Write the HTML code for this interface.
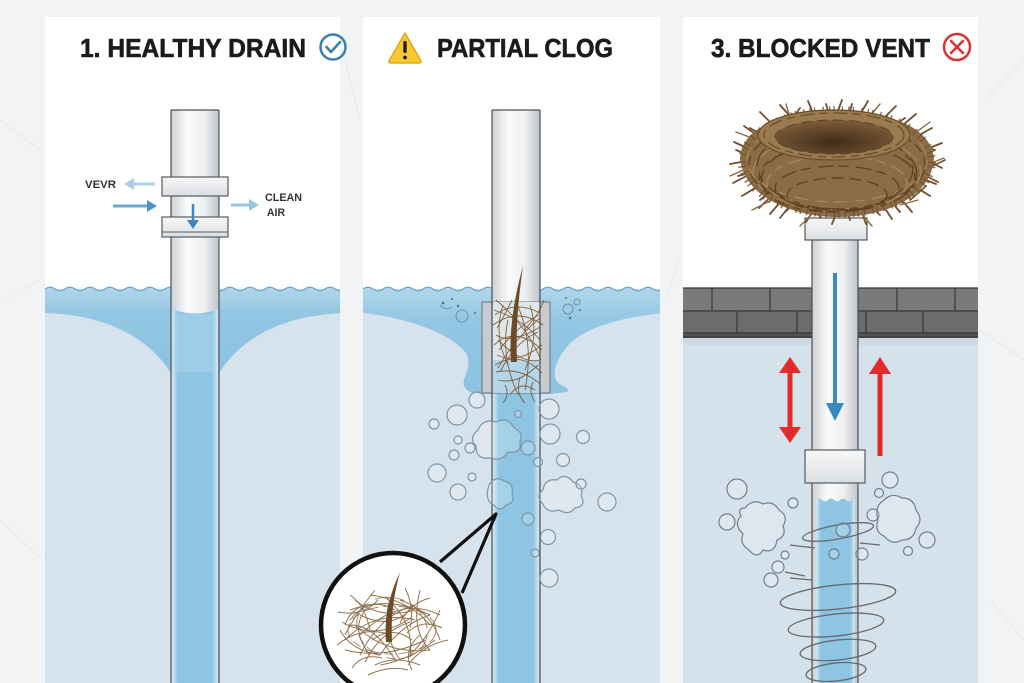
<!DOCTYPE html>
<html><head><meta charset="utf-8"><style>html,body{margin:0;padding:0;background:#f2f3f4;}svg{display:block}</style></head><body>
<svg width="1024" height="683" viewBox="0 0 1024 683" xmlns="http://www.w3.org/2000/svg" font-family="'Liberation Sans', sans-serif">
<defs>
<linearGradient id="pipe" x1="0" x2="1" y1="0" y2="0">
<stop offset="0" stop-color="#cdd2d6"/><stop offset="0.35" stop-color="#fbfbfb"/><stop offset="0.7" stop-color="#eceef0"/><stop offset="1" stop-color="#c0c5ca"/>
</linearGradient>
<linearGradient id="coup" x1="0" x2="0" y1="0" y2="1"><stop offset="0" stop-color="#f6f7f8"/><stop offset="1" stop-color="#dcdfe2"/></linearGradient>
<linearGradient id="wtr" x1="0" x2="0" y1="0" y2="1"><stop offset="0" stop-color="#b2d8ec"/><stop offset="0.3" stop-color="#93c7e3"/><stop offset="1" stop-color="#8cc2e0"/></linearGradient>
<linearGradient id="inw" x1="0" x2="1" y1="0" y2="0"><stop offset="0" stop-color="#d2e8f4"/><stop offset="0.13" stop-color="#8ec5e3"/><stop offset="0.87" stop-color="#8ec5e3"/><stop offset="1" stop-color="#d2e8f4"/></linearGradient>
<radialGradient id="bowl" cx="0.5" cy="0.65" r="0.6"><stop offset="0" stop-color="#3f2c18"/><stop offset="1" stop-color="#7a5a38"/></radialGradient>
<clipPath id="c1"><rect x="45" y="17" width="295" height="666"/></clipPath>
<clipPath id="c2"><rect x="363" y="17" width="297" height="666"/></clipPath>
<clipPath id="c3"><rect x="683" y="17" width="295" height="666"/></clipPath>
</defs>

<!-- faint background sketch lines -->
<g stroke="#e6e8ea" stroke-width="1" fill="none">
<path d="M0,120 L40,150 M5,300 L40,280 M0,520 L42,560 M985,100 L1024,60 M980,330 L1024,360 M990,600 L1024,640 M345,60 L360,120 M665,300 L680,260"/>
</g>

<!-- PANELS -->
<rect x="45" y="17" width="295" height="666" fill="#ffffff"/>
<rect x="363" y="17" width="297" height="666" fill="#ffffff"/>
<rect x="683" y="17" width="295" height="666" fill="#ffffff"/>

<!-- TITLES -->
<g font-size="26" font-weight="bold" fill="#1b1b1b" stroke="#1b1b1b" stroke-width="0.6">
<text x="80" y="57" textLength="226" lengthAdjust="spacingAndGlyphs">1. HEALTHY DRAIN</text>
<text x="437" y="57" textLength="176" lengthAdjust="spacingAndGlyphs">PARTIAL CLOG</text>
<text x="711" y="57" textLength="219" lengthAdjust="spacingAndGlyphs">3. BLOCKED VENT</text>
</g>
<circle cx="333" cy="47" r="12.5" fill="none" stroke="#3e80ad" stroke-width="2.5"/>
<path d="M326.5,47 L331,52 L340,42" fill="none" stroke="#3e80ad" stroke-width="2.6" stroke-linecap="round" stroke-linejoin="round"/>

<path d="M405,33 L421,61 Q422,63 419,63 L391,63 Q388,63 389,61 Z" fill="#f6c935" stroke="#e3aa10" stroke-width="1.5" stroke-linejoin="round"/>
<rect x="403.3" y="41" width="3.4" height="12" rx="1.2" fill="#222"/>
<circle cx="405" cy="57.5" r="1.9" fill="#222"/>

<circle cx="957" cy="47" r="13" fill="none" stroke="#d93434" stroke-width="2.5"/>
<path d="M951,41 L963,53 M963,41 L951,53" stroke="#d93434" stroke-width="2.6" stroke-linecap="round"/>

<!-- ================= PANEL 1 ================= -->
<g clip-path="url(#c1)">
<rect x="45" y="289" width="300" height="394" fill="#d7e3ec"/>
<path d="M45,289 q5,-3.5 10,0 t10,0 t10,0 t10,0 t10,0 t10,0 t10,0 t10,0 t10,0 t10,0 t10,0 t10,0 t10,0 t10,0 t10,0 t10,0 t10,0 t10,0 t10,0 t10,0 t10,0 t10,0 t10,0 t10,0 t10,0 t10,0 t10,0 t10,0 t10,0 t10,0 L345,313 C280,315 240,340 219,373 L171,373 C150,340 110,315 45,313 Z" fill="url(#wtr)"/>
<path d="M45,289 q5,-3.5 10,0 t10,0 t10,0 t10,0 t10,0 t10,0 t10,0 t10,0 t10,0 t10,0 t10,0 t10,0 t10,0 t10,0 t10,0 t10,0 t10,0 t10,0 t10,0 t10,0 t10,0 t10,0 t10,0 t10,0 t10,0 t10,0 t10,0 t10,0 t10,0 t10,0" fill="none" stroke="#6ea7cb" stroke-width="1.3"/>
</g>
<!-- pipe 1 -->
<rect x="171" y="110" width="48" height="573" fill="url(#pipe)"/>
<path d="M172,309 Q195,318 218,309 L218,683 L172,683 Z" fill="url(#inw)"/>
<rect x="176" y="314" width="38" height="58" fill="#a9d4ea" opacity="0.6"/>
<path d="M171,110 L171,683 M219,110 L219,683 M171,110 L219,110" stroke="#4d4f52" stroke-width="1.2" fill="none"/>
<rect x="162" y="177" width="66" height="19" fill="url(#coup)" stroke="#56595c" stroke-width="1.2"/>
<rect x="162" y="217" width="66" height="20" fill="url(#coup)" stroke="#56595c" stroke-width="1.2"/>
<path d="M162,232 L228,232" stroke="#56595c" stroke-width="1"/>
<path d="M193,204 L193,222" stroke="#3d87c0" stroke-width="2.5"/>
<polygon points="187,220 199,220 193,229" fill="#3d87c0"/>
<!-- arrows 1 -->
<path d="M155,184 L132,184" stroke="#a8cfe7" stroke-width="3"/>
<polygon points="124,184 134,178 134,190" fill="#a8cfe7"/>
<path d="M113,206 L148,206" stroke="#6ba7d2" stroke-width="3"/>
<polygon points="157,206 147,200 147,212" fill="#4f94c8"/>
<path d="M231,205 L251,205" stroke="#96c5e2" stroke-width="3"/>
<polygon points="259,205 249,199 249,211" fill="#96c5e2"/>
<text x="85" y="188" font-size="11" font-weight="bold" fill="#333" textLength="31" lengthAdjust="spacingAndGlyphs">VEVR</text>
<text x="265" y="201" font-size="11" font-weight="bold" fill="#333" textLength="37" lengthAdjust="spacingAndGlyphs">CLEAN</text>
<text x="267" y="216" font-size="11" font-weight="bold" fill="#333" textLength="18" lengthAdjust="spacingAndGlyphs">AIR</text>

<!-- ================= PANEL 2 ================= -->
<g clip-path="url(#c2)">
<rect x="363" y="289" width="300" height="394" fill="#d7e3ec"/>
<path d="M363,289 q5,-3.5 10,0 t10,0 t10,0 t10,0 t10,0 t10,0 t10,0 t10,0 t10,0 t10,0 t10,0 t10,0 t10,0 t10,0 t10,0 t10,0 t10,0 t10,0 t10,0 t10,0 t10,0 t10,0 t10,0 t10,0 t10,0 t10,0 t10,0 t10,0 t10,0 t10,0 L663,313 C615,318 580,330 566,348 C555,362 553,372 556,380 C560,387 571,387 567,392 L550,394 L482,394 L470,392 C464,389 462,384 465,377 C468,368 471,361 465,352 C452,335 410,318 363,313 Z" fill="url(#wtr)"/>
<path d="M363,289 q5,-3.5 10,0 t10,0 t10,0 t10,0 t10,0 t10,0 t10,0 t10,0 t10,0 t10,0 t10,0 t10,0 t10,0 t10,0 t10,0 t10,0 t10,0 t10,0 t10,0 t10,0 t10,0 t10,0 t10,0 t10,0 t10,0 t10,0 t10,0 t10,0 t10,0 t10,0" fill="none" stroke="#6ea7cb" stroke-width="1.3"/>
</g>
<g fill="#4b6f8a">
<circle cx="443" cy="303" r="1.3"/><circle cx="452" cy="299" r="1"/><circle cx="458" cy="306" r="1.2"/><circle cx="475" cy="313" r="1"/><circle cx="566" cy="298" r="1"/><circle cx="570" cy="318" r="1.2"/><circle cx="580" cy="310" r="1"/>
</g>
<g fill="none" stroke="#6f90a8" stroke-width="1">
<circle cx="462" cy="316" r="6"/><circle cx="568" cy="309" r="5"/><circle cx="577" cy="302" r="3"/><path d="M440,305 q5,6 12,2"/>
</g>
<!-- pipe 2 -->
<rect x="492" y="110" width="48" height="573" fill="url(#pipe)"/>
<rect x="493" y="392" width="46" height="291" fill="url(#inw)"/>
<rect x="482" y="302" width="68" height="91" fill="#c8ccd0" stroke="#7b7f83" stroke-width="1.2"/>
<rect x="493" y="302" width="46" height="91" fill="#dfe6ea"/>
<rect x="493" y="360" width="46" height="33" fill="#a9d2e8" opacity="0.8"/>
<path d="M492,110 L492,683 M540,110 L540,683 M492,110 L540,110" stroke="#4d4f52" stroke-width="1.2" fill="none"/>
<!-- hair in sleeve -->
<g fill="none" stroke="#7b5a36" stroke-width="0.9" opacity="0.95">
<path d="M495,315 q20,-15 45,-2"/><path d="M493,325 q25,-18 50,0"/><path d="M496,335 q15,10 44,-8"/><path d="M494,345 q22,-20 48,5"/>
<path d="M497,355 q20,10 45,-10"/><path d="M495,365 q25,-15 47,8"/><path d="M500,372 q15,-30 38,-40"/><path d="M498,380 q20,5 40,-15"/>
<path d="M503,305 q-10,30 5,60"/><path d="M530,305 q10,30 -5,65"/><path d="M515,300 q20,40 10,90"/><path d="M508,320 q-8,35 10,75"/>
<path d="M540,318 q-25,20 -42,50"/><path d="M496,300 q30,25 45,60"/><path d="M520,378 q-5,15 5,25"/><path d="M505,385 q5,10 -2,18"/>
<path d="M533,382 q-5,10 2,20"/><path d="M498,340 q25,25 42,20"/><path d="M512,300 q-10,20 -15,28"/><path d="M524,330 q15,-15 20,-30"/>
<path d="M494,310 q30,10 46,30"/><path d="M499,350 q20,-25 40,-35"/><path d="M496,372 q25,-5 44,12"/><path d="M510,395 q10,-15 25,-5"/>
</g>
<path d="M511,362 Q508,320 523,266 Q515,320 517,362 Z" fill="#6a4a28"/>
<!-- bubbles panel 2 -->
<g fill="#ffffff" fill-opacity="0.2" stroke="#7c95a8" stroke-width="1.2">
<circle cx="477" cy="400" r="8"/><circle cx="457" cy="415" r="10"/><circle cx="434" cy="424" r="5"/>
<path d="M478,430 q5,-12 18,-8 q12,-6 18,6 q10,4 6,14 q2,12 -12,10 q-6,10 -18,6 q-14,2 -14,-12 q-8,-8 2,-16 Z"/>
<circle cx="518" cy="414" r="3.5"/><circle cx="549" cy="409" r="10"/><circle cx="550" cy="434" r="10"/><circle cx="583" cy="437" r="6.5"/>
<circle cx="458" cy="440" r="4"/><circle cx="470" cy="448" r="5"/><circle cx="454" cy="455" r="5"/><circle cx="528" cy="448" r="7"/>
<circle cx="538" cy="462" r="4.5"/><circle cx="563" cy="460" r="6.5"/><circle cx="437" cy="473" r="9"/><circle cx="472" cy="477" r="4"/>
<circle cx="458" cy="492" r="8"/>
<path d="M489,485 q6,-10 15,-4 q10,2 8,12 q4,10 -6,12 q-6,8 -12,0 q-10,-4 -5,-20 Z"/>
<path d="M543,490 q2,-12 14,-10 q8,-8 16,2 q12,4 8,14 q6,10 -6,12 q-6,8 -16,2 q-12,4 -16,-6 q-8,-8 0,-14 Z"/>
<circle cx="581" cy="484" r="5"/><circle cx="607" cy="502" r="9"/><circle cx="528" cy="519" r="6"/><circle cx="548" cy="537" r="7.5"/>
<circle cx="535" cy="553" r="4"/><circle cx="549" cy="578" r="9"/>
</g>
<!-- magnifier -->
<path d="M440,562 L496,514 L462,593" fill="none" stroke="#111" stroke-width="3.2" stroke-linejoin="round"/>
<circle cx="393" cy="625" r="72" fill="#ffffff" stroke="#111" stroke-width="4.5"/>
<g fill="none" stroke="#8b6c46" stroke-width="1" opacity="0.95">
<path d="M350,620 q20,-25 45,-10"/><path d="M345,640 q30,-30 70,-20"/><path d="M355,600 q25,20 60,10"/><path d="M360,655 q20,-40 55,-50"/>
<path d="M370,595 q40,5 60,30"/><path d="M340,630 q10,20 40,25"/><path d="M400,600 q30,10 40,40"/><path d="M410,655 q20,-20 30,-45"/>
<path d="M365,610 q-15,20 5,45"/><path d="M380,665 q30,-5 55,-25"/><path d="M350,610 q40,-15 80,5"/><path d="M345,650 q40,10 80,-10"/>
<path d="M375,590 q-20,25 -30,45"/><path d="M420,590 q-10,40 10,60"/><path d="M360,635 q40,-40 80,-20"/><path d="M355,625 q30,30 75,25"/>
<path d="M395,660 q-20,-35 -45,-35"/><path d="M430,615 q-30,10 -50,40"/><path d="M365,662 q15,-30 45,-40"/><path d="M385,597 q30,25 25,60"/>
<path d="M338,612 q25,5 40,-12"/><path d="M442,628 q-20,-10 -35,5"/><path d="M352,668 q10,-15 30,-10"/><path d="M412,670 q-10,-20 8,-35"/>
<path d="M372,640 q20,-15 40,0"/><path d="M360,615 q30,15 50,-5"/><path d="M390,600 q-10,30 10,60"/><path d="M345,625 q5,-15 20,-20"/>
<path d="M337,645 q25,-20 55,-10"/><path d="M448,640 q-25,5 -40,25"/><path d="M350,595 q15,10 20,35"/><path d="M430,598 q-20,5 -30,25"/>
<path d="M368,675 q20,-10 40,-5"/><path d="M342,622 q35,20 70,-5"/><path d="M405,588 q10,20 5,40"/><path d="M420,665 q-25,-10 -45,0"/>
</g>
<ellipse cx="392" cy="630" rx="44" ry="24" fill="none" stroke="#7e6040" stroke-width="1" stroke-dasharray="14 5 9 6" opacity="0.7"/>
<ellipse cx="392" cy="628" rx="36" ry="30" fill="none" stroke="#7e6040" stroke-width="1" stroke-dasharray="10 7 16 4" transform="rotate(20 392 628)" opacity="0.7"/>
<path d="M386,642 Q383,608 400,572 Q390,608 392,642 Z" fill="#6a4a28"/>

<!-- ================= PANEL 3 ================= -->
<rect x="683" y="337" width="295" height="346" fill="#d6e2eb"/>
<rect x="683" y="333" width="295" height="12" fill="#c6d3dd" opacity="0.6"/>
<rect x="683" y="288" width="295" height="23" fill="#7a7a7a"/>
<rect x="683" y="311" width="295" height="22" fill="#6c6c6c"/>
<rect x="683" y="333" width="295" height="5" fill="#555"/>
<g stroke="#383838" stroke-width="1.2" fill="none">
<path d="M683,288 L978,288 M683,311 L978,311 M683,333 L978,333 M683,337 L978,337"/>
<path d="M712,288 L712,311 M770,288 L770,311 M897,288 L897,311 M955,288 L955,311"/>
<path d="M737,311 L737,333 M797,311 L797,333 M866,311 L866,333 M923,311 L923,333"/>
</g>
<!-- pipe 3 -->
<rect x="812" y="240" width="46" height="443" fill="url(#pipe)"/>
<path d="M816,500 q3,-3 6,0 t6,0 t6,0 t6,0 t6,0 t6,0 t3,0 L855,683 L816,683 Z" fill="url(#inw)"/>
<path d="M812,240 L812,683 M858,240 L858,683" stroke="#4d4f52" stroke-width="1.2" fill="none"/>
<rect x="805" y="218" width="62" height="22" fill="url(#coup)" stroke="#56595c" stroke-width="1.2"/>
<rect x="805" y="450" width="60" height="33" fill="url(#coup)" stroke="#56595c" stroke-width="1.2"/>
<path d="M835,273 L835,405" stroke="#3b87c2" stroke-width="4"/>
<polygon points="835,421 826,403 844,403" fill="#3b87c2"/>
<path d="M790,368 L790,432" stroke="#e12b2b" stroke-width="5"/>
<polygon points="790,357 779,373 801,373" fill="#e12b2b"/>
<polygon points="790,443 779,427 801,427" fill="#e12b2b"/>
<path d="M880,370 L880,456" stroke="#e12b2b" stroke-width="5"/>
<polygon points="880,357 869,374 891,374" fill="#e12b2b"/>
<g fill="none" stroke="#66696d" stroke-width="1.3">
<ellipse cx="838" cy="532" rx="36" ry="7" transform="rotate(-10 838 532)"/>
<path d="M790,545 L815,548 M860,543 L880,545 M785,572 L805,576 M790,578 L812,580"/>
<ellipse cx="838" cy="597" rx="58" ry="12" transform="rotate(-6 838 597)"/>
<ellipse cx="836" cy="625" rx="48" ry="11" transform="rotate(-6 836 625)"/>
<ellipse cx="838" cy="650" rx="38" ry="10" transform="rotate(-6 838 650)"/>
<ellipse cx="836" cy="672" rx="30" ry="9" transform="rotate(-6 836 672)"/>
</g>
<g fill="#ffffff" fill-opacity="0.2" stroke="#6f7f8c" stroke-width="1.2">
<circle cx="737" cy="489" r="10"/><circle cx="727" cy="522" r="8"/><circle cx="793" cy="503" r="5"/>
<path d="M745,508 q8,-10 18,-4 q10,-4 16,6 q10,6 4,16 q4,10 -6,14 q-2,14 -14,10 q-6,10 -14,0 q-10,-6 -6,-16 q-10,-10 -2,-18 q-4,-8 4,-8 Z"/>
<circle cx="785" cy="555" r="4"/><circle cx="778" cy="567" r="6"/><circle cx="771" cy="580" r="7"/>
<circle cx="890" cy="480" r="8"/><circle cx="879" cy="493" r="4.5"/><circle cx="873" cy="515" r="6"/>
<path d="M884,500 q8,-8 18,-2 q12,0 14,12 q8,10 0,18 q-2,12 -14,12 q-10,6 -18,-4 q-10,-4 -6,-16 q-4,-14 6,-20 Z"/>
<circle cx="927" cy="540" r="8"/><circle cx="908" cy="551" r="4.5"/>
<circle cx="843" cy="530" r="7"/><circle cx="834" cy="554" r="5"/><circle cx="862" cy="554" r="6"/>
</g>
<!-- nest -->
<g stroke="#6e5030" stroke-width="1.8" stroke-linecap="round" fill="none">
<path d="M922,158 L942,168 M918,172 L938,182 M908,182 L930,196 M895,192 L912,212 M878,198 L892,219 M858,202 L866,224 M840,204 L832,224 M818,203 L806,222 M796,198 L780,218 M778,190 L759,208 M765,182 L742,196 M756,171 L733,183 M752,160 L730,164 M756,152 L734,142 M764,140 L744,126 M778,130 L760,112 M795,122 L780,105 M815,118 L808,101 M836,116 L842,100 M858,118 L868,101 M880,122 L896,106 M897,130 L916,114 M910,140 L932,128 M919,152 L942,143"/>
<path d="M920,172 L945,160 M910,200 L926,186 M880,215 L866,203 M850,220 L845,205 M820,218 L826,205 M785,212 L798,200 M760,200 L772,190 M738,176 L760,170 M736,150 L756,158 M750,128 L770,140 M800,108 L790,122 M826,104 L830,118 M852,104 L848,118 M905,118 L890,128 M935,150 L918,145 M936,184 L916,176 M900,212 L888,198 M770,214 L782,200"/>
</g>
<g stroke="#8a6a42" stroke-width="1.4" stroke-linecap="round" fill="none">
<path d="M926,165 L944,158 M900,205 L918,200 M862,214 L872,226 M812,214 L800,226 M772,200 L752,210 M748,168 L730,176 M752,138 L736,132 M790,118 L786,104 M870,116 L880,104 M914,134 L930,122"/>
</g>
<path d="M740,158 C744,200 800,218 840,217 C890,216 932,195 934,158 C930,126 890,112 836,112 C780,112 742,128 740,158 Z" fill="#8c6c46"/>
<ellipse cx="837" cy="162" rx="95" ry="52" fill="none" stroke="#6e5030" stroke-width="8" stroke-dasharray="1.4 3 1.4 7 1.4 5" opacity="0.8"/>
<g fill="none" stroke-width="1.4">
<ellipse cx="837" cy="165" rx="88" ry="44" stroke="#5e4326" stroke-dasharray="18 5 9 6"/>
<ellipse cx="837" cy="172" rx="84" ry="37" stroke="#a88557" stroke-dasharray="12 7 20 4"/>
<ellipse cx="837" cy="177" rx="78" ry="32" stroke="#5e4326" stroke-dasharray="22 6 8 5"/>
<ellipse cx="837" cy="183" rx="70" ry="27" stroke="#a88557" stroke-dasharray="9 6 15 5"/>
<ellipse cx="837" cy="188" rx="62" ry="22" stroke="#5e4326" stroke-dasharray="16 5 10 7"/>
<ellipse cx="837" cy="160" rx="90" ry="42" stroke="#a88557" stroke-dasharray="10 9 14 6"/>
<ellipse cx="837" cy="195" rx="50" ry="17" stroke="#5e4326" stroke-dasharray="12 6"/>
<ellipse cx="837" cy="170" rx="80" ry="40" stroke="#5e4326" stroke-dasharray="6 10 20 8" transform="rotate(4 837 170)"/>
<ellipse cx="837" cy="175" rx="76" ry="36" stroke="#5e4326" stroke-dasharray="14 9 7 6" transform="rotate(-5 837 175)"/>
</g>
<ellipse cx="834" cy="135" rx="76" ry="25" fill="#9b7a4f" stroke="#6b4d2c" stroke-width="1.2"/>
<ellipse cx="834" cy="135" rx="70" ry="22" fill="none" stroke="#6b4d2c" stroke-width="1.3" stroke-dasharray="14 5 8 6"/>
<ellipse cx="834" cy="137" rx="59" ry="17" fill="url(#bowl)"/>
<ellipse cx="834" cy="137" rx="59" ry="17" fill="none" stroke="#5a4024" stroke-width="1" stroke-dasharray="10 6"/>
</svg>
</body></html>
